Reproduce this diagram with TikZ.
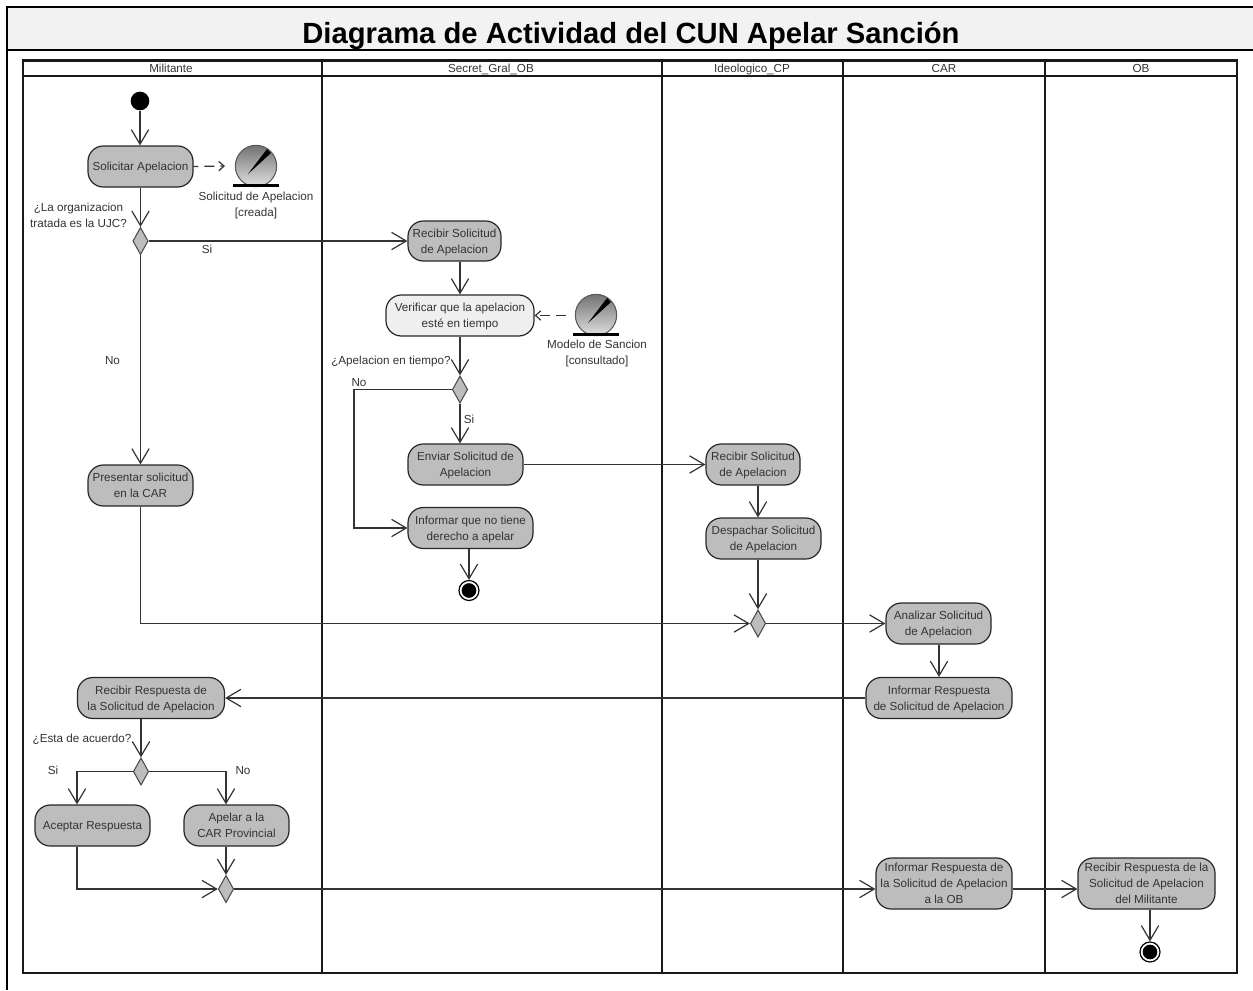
\documentclass[tikz,border=0pt]{standalone}
\usepackage{fontspec}
\setmainfont{Liberation Sans}
\usetikzlibrary{arrows.meta,shapes.geometric}

\definecolor{actfill}{HTML}{BDBDBD}
\definecolor{actlight}{HTML}{EFEFEF}
\definecolor{titlefill}{HTML}{F2F2F2}
\definecolor{inktext}{HTML}{333333}

\tikzset{
  flow/.style={-{Straight Barb[length=11pt,width=13pt]}, draw=black!80, line width=0.9pt},
  depend/.style={-{Straight Barb[length=4pt,width=7pt]}, dash pattern=on 7.5pt off 4.5pt, draw=black!80, line width=0.9pt},
  act/.style={draw=black!85, line width=0.9pt, fill=actfill, rounded corners=11.5pt, align=center, text=inktext,
    font=\fontsize{8.75}{12}\selectfont, inner sep=0pt, text depth=0pt},
  decision/.style={diamond, draw=black!70, line width=0.8pt, fill=actfill, aspect=0.57, minimum width=11.5pt, minimum height=20.5pt, inner sep=0pt},
  note/.style={align=center, text=inktext, font=\fontsize{8.75}{12}\selectfont, inner sep=0pt, text depth=0pt},
  lane/.style={draw=black!90, line width=1.9pt},
  initial/.style={circle, fill=black, minimum size=14pt, inner sep=0pt},
  final/.style={circle, draw=black, line width=0.9pt, fill=white, minimum size=15pt, inner sep=0pt},
  objstate/.style={circle, draw=black!65, line width=0.8pt, minimum size=31pt, inner sep=0pt, top color=black!55, bottom color=black!12},
}
% one activity: name, centre x, centre y, width, height, text
\NewDocumentCommand{\actnode}{mmmmmmO{act}}{%
\node[#7, minimum width=#4*0.75pt, minimum height=#5*0.75pt] (#1) at (#2,#3) {#6};%
}
% object with its needle and base line
\NewDocumentCommand{\objnode}{mmm}{%
\node[objstate] (#1) at (#2,#3) {};%
\begin{scope}[shift={(#1.center)}]%
\fill[black] (-8,8) -- (11,-17) -- (15,-13) -- cycle;%
\draw[black, line width=1.9pt] (-23,19.5) -- (23,19.5);%
\end{scope}%
}

\begin{document}
\begin{tikzpicture}[x=0.75pt,y=-0.75pt]
        \useasboundingbox (0,0) rectangle (1253,990);

        % Frame and title.
        \path[fill=titlefill] (7,7) rectangle (1253,50);
        \draw[black, line width=2pt] (7,990) -- (7,7) -- (1253,7);
        \draw[black, line width=2pt] (7,50) -- (1253,50);
        \node[font=\bfseries\fontsize{21.9}{24}\selectfont, inner sep=0pt, text depth=0pt] (title) at (631,33) {Diagrama de Actividad del CUN Apelar Sanción};

        % Lanes.
        \draw[lane] (23,60.5) rectangle (1237,973);
        \draw[lane] (23,76) -- (1237,76);
        \foreach \x in {322,662,843,1045} {\draw[lane] (\x,60.5) -- (\x,973);}
        \foreach \x/\txt/\nam in {171/Militante/lanea,491/Secret\_Gral\_OB/laneb,752/Ideologico\_CP/lanec,944/CAR/laned,1141/OB/lanee} {
            \node[note] (\nam) at (\x,68) {\txt};
        }

        % Activities.
        \node[initial] (start) at (140,101) {};
        \actnode{solicitar}{140.5}{166.5}{105}{41}{Solicitar Apelacion}
        \objnode{solobj}{256}{166}
        \node[note] (sollabel) at (256,204) {Solicitud de Apelacion\\{[creada]}};
        \coordinate (solend) at (225,166);
        \node[decision] (dorg) at (140.5,241) {};
        \node[note] (lorg) at (78.5,215) {¿La organizacion\\tratada es la UJC?};
        \actnode{recibirsol}{454.5}{241}{93}{40}{Recibir Solicitud\\de Apelacion}
        \actnode{verificar}{460}{315.5}{148}{41}{Verificar que la apelacion\\esté en tiempo}[act,fill=actlight]
        \objnode{sanobj}{596}{315}
        \coordinate (sanstart) at (566,315.5);
        \node[note] (sanlabel) at (597,352.5) {Modelo de Sancion\\{[consultado]}};
        \node[decision] (dtiempo) at (460,389.5) {};
        \node[note] (ltiempo) at (391,360.5) {¿Apelacion en tiempo?};
        \coordinate (nocorner) at (354,389.5);
        \actnode{enviar}{465.5}{464.5}{115}{41}{Enviar Solicitud de\\Apelacion}
        \actnode{informar}{470.5}{528}{125}{41}{Informar que no tiene\\derecho a apelar}
        \node[final] (finala) at (469,590.5) {};
        \fill[black] (finala) circle (5.5pt);
        \actnode{presentar}{140.5}{485.5}{105}{41}{Presentar solicitud\\en la CAR}
        \actnode{recibirideo}{753}{464.5}{94}{41}{Recibir Solicitud\\de Apelacion}
        \actnode{despachar}{763.5}{538.5}{115}{41}{Despachar Solicitud\\de Apelacion}
        \node[decision] (dmerge) at (758,623.5) {};
        \actnode{analizar}{938.5}{623.5}{105}{41}{Analizar Solicitud\\de Apelacion}
        \actnode{informarresp}{939}{698}{146}{41}{Informar Respuesta\\de Solicitud de Apelacion}
        \actnode{recibirresp}{151}{698}{147}{41}{Recibir Respuesta de\\la Solicitud de Apelacion}
        \node[decision] (dacuerdo) at (141,771.5) {};
        \node[note] (lacuerdo) at (82,738) {¿Esta de acuerdo?};
        \actnode{aceptar}{92.5}{825.5}{115}{41}{Aceptar Respuesta}
        \actnode{apelar}{236.5}{825.5}{105}{41}{Apelar a la\\CAR Provincial}
        \node[decision] (dfin) at (226,889) {};
        \coordinate (acepx) at (77,825.5);
        \actnode{informarob}{944}{883.5}{136}{51}{Informar Respuesta de\\la Solicitud de Apelacion\\a la OB}
        \actnode{recibirob}{1146.5}{883.5}{137}{51}{Recibir Respuesta de la\\Solicitud de Apelacion\\del Militante}
        \node[final] (finalb) at (1150,952) {};
        \fill[black] (finalb) circle (5.5pt);

        % Guards.
        \node[note] (gsia) at (207,249) {Si};
        \node[note] (gnoa) at (112.5,360.5) {No};
        \node[note] (gnob) at (359,382.5) {No};
        \node[note] (gsib) at (469,419.5) {Si};
        \node[note] (gsic) at (53,770) {Si};
        \node[note] (gnoc) at (243,770) {No};

        % Flows.
        \draw[flow] (start) -- (start |- solicitar.north);
        \draw[depend, dash phase=4pt] (solicitar.east) -- (solend);
        \draw[flow] (solicitar.south -| dorg) -- (dorg.north);
        \draw[flow] (dorg.east) -- (recibirsol.west);
        \draw[flow] (dorg.south) -- (presentar.north -| dorg);
        \draw[flow] (recibirsol.south -| verificar) -- (verificar.north);
        \draw[depend] (sanstart) -- (verificar.east);
        \draw[flow] (verificar.south) -- (dtiempo.north);
        \draw[flow] (dtiempo.south) -- (enviar.north -| dtiempo);
        \draw[flow] (dtiempo.west) -- (nocorner) |- (informar.west);
        \draw[flow] (informar.south -| finala) -- (finala.north);
        \draw[flow] (enviar.east) -- (recibirideo.west);
        \draw[flow] (recibirideo.south -| dmerge) -- (despachar.north -| dmerge);
        \draw[flow] (despachar.south -| dmerge) -- (dmerge.north);
        \draw[flow] (presentar.south -| dorg) |- (dmerge.west);
        \draw[flow] (dmerge.east) -- (analizar.west);
        \draw[flow] (analizar.south -| informarresp) -- (informarresp.north);
        \draw[flow] (informarresp.west) -- (recibirresp.east);
        \draw[flow] (recibirresp.south -| dacuerdo) -- (dacuerdo.north);
        \draw[flow] (dacuerdo.west) -| (aceptar.north -| acepx);
        \draw[flow] (dacuerdo.east) -| (dfin |- apelar.north);
        \draw[flow] (apelar.south -| dfin) -- (dfin.north);
        \draw[flow] (aceptar.south -| acepx) |- (dfin.west);
        \draw[flow] (dfin.east) -- (dfin.east -| informarob.west);
        \draw[flow] (informarob.east |- dfin) -- (dfin -| recibirob.west);
        \draw[flow] (recibirob.south -| finalb) -- (finalb.north);
    \end{tikzpicture}
\end{document}
